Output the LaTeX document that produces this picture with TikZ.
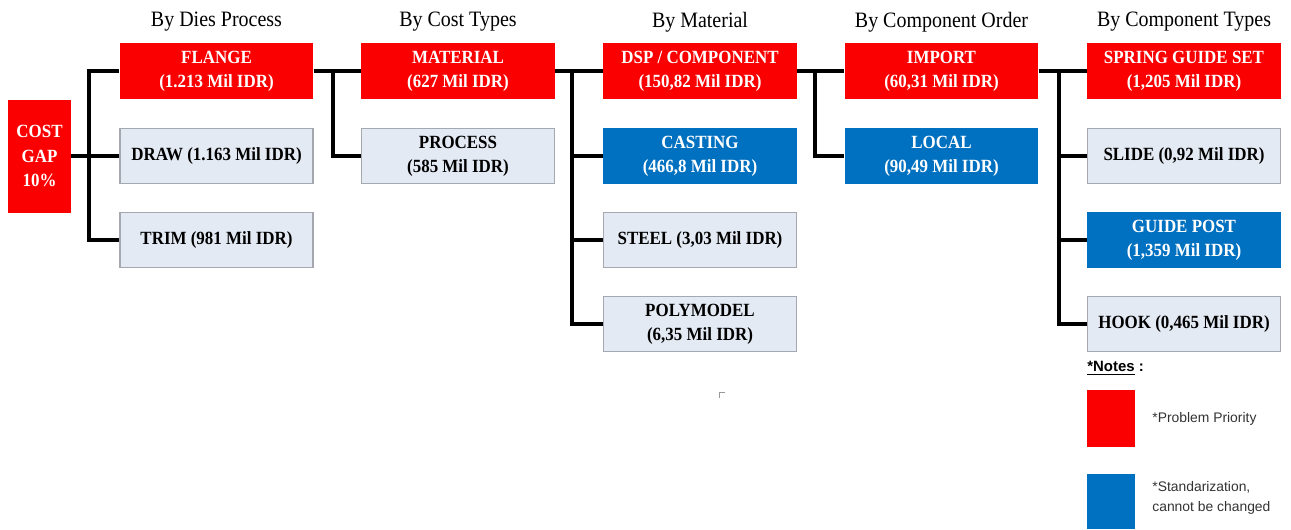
\documentclass[tikz,border=0pt]{standalone}
\usepackage{fontspec}
\setmainfont[FakeStretch=0.91]{Liberation Serif}
\newfontfamily\notefont{Liberation Sans}
\definecolor{prired}{RGB}{250,0,0}
\definecolor{stdblue}{RGB}{0,112,192}
\definecolor{plainfill}{RGB}{228,234,243}
\definecolor{plainline}{RGB}{165,168,175}
\begin{document}
\begin{tikzpicture}
	[x=0.02cm,y=-0.02cm,
	every node/.style={inner sep=0pt, align=center,
		font=\fontsize{10.6}{13.8}\selectfont\bfseries},
	prio/.style={fill=prired, text=white, minimum width=3.88cm, minimum height=1.12cm},
	std/.style={fill=stdblue, text=white, minimum width=3.88cm, minimum height=1.12cm},
	plain/.style={fill=plainfill, draw=plainline, line width=0.6pt, text=black,
		minimum width=3.86cm, minimum height=1.10cm},
	head/.style={font=\fontsize{12.5}{14}\selectfont},
	link/.style={line width=2.2pt, line join=miter}]
	\useasboundingbox (0,0) rectangle (1291,529);

	% headers
	\node[head] (h1) at (216.5,22) {By Dies Process};
	\node[head] (h2) at (458,22)   {By Cost Types};
	\node[head] (h3) at (700,22)   {By Material};
	\node[head] (h4) at (941.5,22) {By Component Order};
	\node[head] (h5) at (1184,22)  {By Component Types};

	% root
	\node[prio, minimum width=1.26cm, minimum height=2.26cm] (gap) at (39.5,156) {COST\\GAP\\10\%};

	% by dies process
	\node[prio]  (flange) at (216.5,71)  {FLANGE\\(1.213 Mil IDR)};
	\node[plain] (draw)   at (216.5,156) {DRAW (1.163 Mil IDR)};
	\node[plain] (trim)   at (216.5,240) {TRIM (981 Mil IDR)};

	% by cost types
	\node[prio]  (material) at (458,71)  {MATERIAL\\(627 Mil IDR)};
	\node[plain] (process)  at (458,156) {PROCESS\\(585 Mil IDR)};

	% by material
	\node[prio]  (dsp)       at (700,71)  {DSP / COMPONENT\\(150,82 Mil IDR)};
	\node[std]   (casting)   at (700,156) {CASTING\\(466,8 Mil IDR)};
	\node[plain] (steel)     at (700,240) {STEEL (3,03 Mil IDR)};
	\node[plain] (polymodel) at (700,324) {POLYMODEL\\(6,35 Mil IDR)};

	% by component order
	\node[prio] (import) at (941.5,71)  {IMPORT\\(60,31 Mil IDR)};
	\node[std]  (local)  at (941.5,156) {LOCAL\\(90,49 Mil IDR)};

	% by component types
	\node[prio]  (spring)    at (1184,71)  {SPRING GUIDE SET\\(1,205 Mil IDR)};
	\node[plain] (slide)     at (1184,156) {SLIDE (0,92 Mil IDR)};
	\node[std]   (guidepost) at (1184,240) {GUIDE POST\\(1,359 Mil IDR)};
	\node[plain] (hook)      at (1184,324) {HOOK (0,465 Mil IDR)};

	% connectors
	\foreach \from/\to in {gap/draw,flange/material,material/dsp,dsp/import,import/spring}
	\draw[link] (\from.east) -- (\to.west);

	\draw[link] (flange.west) -- ++(-30,0) |- (trim.west);

	\draw[link] (flange.east) -- ++(19,0) |- (process.west);

	\foreach \kid in {casting,steel,polymodel}
	\draw[link] (material.east) -- ++(17,0) |- (\kid.west);

	\draw[link] (dsp.east) -- ++(18,0) |- (local.west);

	\foreach \kid in {slide,guidepost,hook}
	\draw[link] (import.east) -- ++(20,0) |- (\kid.west);

	% notes
	\node[anchor=west, font=\notefont\fontsize{8.5}{10}\selectfont\bfseries] (notes) at (1087,368) {\underline{*Notes} :};
	\node[fill=prired, minimum width=0.96cm, minimum height=1.14cm] (keyprio) at (1111,418.5) {};
	\node[anchor=west, text=black!80, font=\notefont\fontsize{7.9}{11.3}\selectfont] (txtprio) at (1152,419) {*Problem Priority};
	\node[fill=stdblue, minimum width=0.96cm, minimum height=1.10cm] (keystd) at (1111,501.5) {};
	\node[anchor=west, align=left, text=black!80, font=\notefont\fontsize{7.9}{11.3}\selectfont] (txtstd) at (1152,498) {*Standarization,\\cannot be changed};

	% stray mark
	\draw[black!40, line width=0.4pt] (725,392) -- (719,392) -- (719,398);
\end{tikzpicture}
\end{document}
